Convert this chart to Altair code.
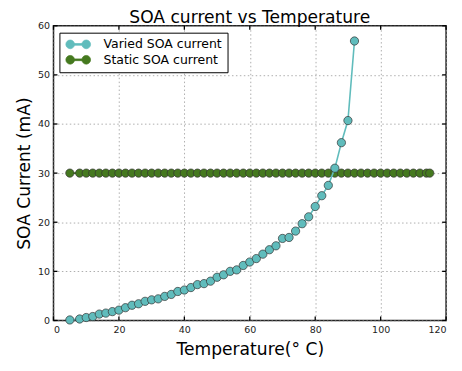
import altair as alt
import pandas as pd

# ---- data ----
temps_varied = [5, 8, 10, 12, 14, 16, 18, 20, 22, 24, 26, 28, 30, 32, 34, 36, 38, 40,
                42, 44, 46, 48, 50, 52, 54, 56, 58, 60, 62, 64, 66, 68, 70, 72, 74, 76,
                78, 80, 82, 84, 86, 88, 90, 92]
current_varied = [0.1, 0.3, 0.6, 0.8, 1.3, 1.5, 1.8, 2.1, 2.6, 3.1, 3.4, 3.9, 4.2, 4.4,
                  4.9, 5.3, 5.9, 6.2, 6.7, 7.3, 7.5, 8.0, 8.8, 9.3, 10.0, 10.3, 11.2, 11.9,
                  12.6, 13.5, 14.4, 15.2, 16.7, 16.9, 18.2, 19.7, 21.1, 23.2, 25.4, 27.5,
                  31.0, 36.2, 40.7, 56.9]
temps_static = [5, 8, 10, 12, 14, 16, 18, 20, 22, 24, 26, 28, 30, 32, 34, 36, 38, 40,
                42, 44, 46, 48, 50, 52, 54, 56, 58, 60, 62, 64, 66, 68, 70, 72, 74, 76,
                78, 80, 82, 84, 86, 88, 90, 92, 94, 96, 98, 100, 102, 104, 106, 108, 110,
                112, 114, 115]
current_static = [30, 30, 30, 30, 30, 30, 30, 30, 30, 30, 30, 30, 30, 30, 30, 30, 30, 30,
                  30, 30, 30, 30, 30, 30, 30, 30, 30, 30, 30, 30, 30, 30, 30, 30, 30, 30,
                  30, 30, 30, 30, 30, 30, 30, 30, 30, 30, 30, 30, 30, 30, 30, 30, 30, 30,
                  30, 30]
series_names = ["Varied SOA current", "Static SOA current"]
series_colors = ["#60bcbc", "#45791f"]
x_ticks = [0, 20, 40, 60, 80, 100, 120]
y_ticks = [0, 10, 20, 30, 40, 50, 60]

W, H = 397, 298
FONT = "DejaVu Sans"

df_v = pd.DataFrame({"T": temps_varied, "I": current_varied, "series": series_names[0]})
df_s = pd.DataFrame({"T": temps_static, "I": current_static, "series": series_names[1]})
df_xt = pd.DataFrame({"T": x_ticks})
df_yt = pd.DataFrame({"I": y_ticks})

xs = alt.Scale(domain=[0, 120], nice=False, zero=False)
ys = alt.Scale(domain=[0, 60], nice=False, zero=False)
cs = alt.Scale(domain=series_names, range=series_colors)

x_axis = alt.Axis(values=x_ticks, title="Temperature(° C)", ticks=False, domain=False,
                  grid=True, labelPadding=4, titleY=34, titleBaseline="alphabetic")
y_axis = alt.Axis(values=y_ticks, title="SOA Current (mA)", ticks=False, domain=False,
                  grid=True, labelPadding=4, titleX=-29, titleBaseline="middle")

X = alt.X("T:Q", scale=xs, axis=x_axis)
Y = alt.Y("I:Q", scale=ys, axis=y_axis)

# legend glyph: two markers joined by a short line (matplotlib "o-" style)
legend_symbol = ("M-2.5,0A0.88,0.88 0 1,0 -0.74,0A0.88,0.88 0 1,0 -2.5,0Z "
                 "M0.74,0A0.88,0.88 0 1,0 2.5,0A0.88,0.88 0 1,0 0.74,0Z "
                 "M-0.74,-0.175H0.74V0.175H-0.74Z")
legend = alt.Legend(title=None, orient="none", legendX=6, legendY=7,
                    symbolType=legend_symbol, symbolSize=100, symbolOffset=7.2,
                    symbolStrokeColor="#333", symbolStrokeWidth=0.7, symbolOpacity=1,
                    labelFont=FONT, labelFontSize=12.6, labelColor="black",
                    labelOffset=19.3, strokeColor="black", fillColor="white",
                    padding=5.5, rowPadding=2.6, cornerRadius=0)
C = alt.Color("series:N", scale=cs, legend=legend)


def series_layers(df):
    base = alt.Chart(df).encode(x=X, y=Y, color=C)
    line = base.mark_line(strokeWidth=1.6)
    pts = base.mark_circle(size=70, opacity=1, stroke="#333", strokeWidth=0.7)
    return [line, pts]


tick_style = dict(color="black", thickness=1.3, size=4, opacity=1)
ticks_bottom = alt.Chart(df_xt).mark_tick(**tick_style).encode(x=X, y=alt.value(H - 2))
ticks_top = alt.Chart(df_xt).mark_tick(**tick_style).encode(x=X, y=alt.value(2))
ticks_left = alt.Chart(df_yt).mark_tick(**tick_style).encode(y=Y, x=alt.value(2))
ticks_right = alt.Chart(df_yt).mark_tick(**tick_style).encode(y=Y, x=alt.value(W - 2))

chart = alt.layer(
    *series_layers(df_s),
    *series_layers(df_v),
    ticks_bottom, ticks_top, ticks_left, ticks_right,
).properties(
    width=W, height=H,
    title=alt.TitleParams("SOA current vs Temperature", font=FONT, fontSize=17.3,
                          fontWeight="normal", color="black", anchor="middle",
                          offset=-5),
    padding={"left": 46, "top": 16, "right": 8, "bottom": 37},
    autosize=alt.AutoSizeParams(type="none"),
).configure_view(
    stroke="#222", strokeWidth=1.5
).configure_axis(
    labelFont=FONT, labelFontSize=9.6, labelColor="#222",
    titleFont=FONT, titleFontSize=17.3, titleFontWeight="normal", titleColor="black",
    gridColor="#999", gridDash=[1.5, 2.5], gridWidth=0.8, gridOpacity=1,
)

chart.save("out.html", embed_options={"renderer": "svg", "actions": False})
